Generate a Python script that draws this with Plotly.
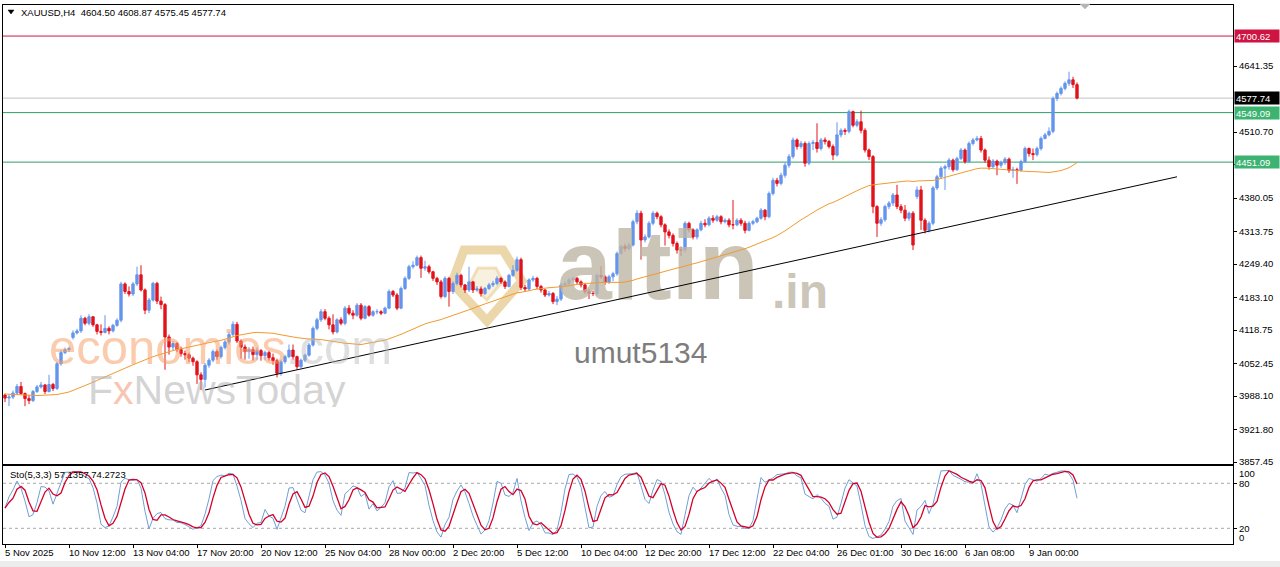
import plotly.graph_objects as go
import pandas as pd

# ---------------- data ----------------
first_open = 3990.0
close = [
    3984, 3986, 3994, 4007, 3993, 3983, 3979, 3997, 4006, 4010,
    3997, 4011, 4003, 4052, 4074, 4080, 4082, 4113, 4117, 4142,
    4132, 4145, 4129, 4116, 4114, 4122, 4117, 4128, 4138, 4210,
    4195, 4190, 4210, 4228, 4198, 4158, 4178, 4211, 4176, 4169,
    4105, 4085, 4092, 4080, 4072, 4070, 4063, 4056, 4030, 4021,
    4049, 4059, 4076, 4066, 4084, 4095, 4110, 4130, 4097, 4085,
    4076, 4080, 4070, 4078, 4068, 4074, 4064, 4058, 4033, 4056,
    4066, 4079, 4066, 4046, 4059, 4069, 4089, 4122, 4139, 4155,
    4142, 4129, 4115, 4139, 4132, 4162, 4152, 4148, 4168, 4142,
    4165, 4148, 4155, 4155, 4152, 4162, 4195, 4188, 4162, 4201,
    4221, 4244, 4247, 4262, 4241, 4244, 4234, 4221, 4214, 4185,
    4221, 4195, 4211, 4227, 4208, 4198, 4214, 4198, 4200, 4191,
    4201, 4208, 4211, 4221, 4214, 4205, 4227, 4237, 4258, 4203,
    4200, 4218, 4221, 4205, 4198, 4188, 4191, 4175, 4180, 4208,
    4211, 4218, 4221, 4214, 4208, 4195, 4191, 4191, 4227, 4224,
    4214, 4224, 4230, 4270, 4284, 4280, 4287, 4333, 4350, 4297,
    4303, 4330, 4350, 4343, 4327, 4313, 4306, 4290, 4277, 4277,
    4330, 4317, 4303, 4317, 4330, 4327, 4340, 4336, 4343, 4333,
    4336, 4327, 4327, 4336, 4330, 4316, 4330, 4333, 4340, 4356,
    4343, 4389, 4415, 4409, 4425, 4445, 4462, 4495, 4482, 4488,
    4449, 4488, 4490, 4478, 4495, 4492, 4482, 4465, 4505, 4514,
    4512, 4551, 4524, 4531, 4514, 4475, 4462, 4363, 4330, 4337,
    4363, 4370, 4386, 4363, 4356, 4340, 4350, 4287, 4396, 4336,
    4316, 4330, 4400, 4422, 4439, 4442, 4455, 4436, 4458, 4475,
    4452, 4488, 4495, 4498, 4475, 4455, 4442, 4453, 4445, 4450,
    4457, 4435, 4436, 4435, 4452, 4478, 4468, 4466, 4478, 4498,
    4505, 4512, 4577, 4587, 4597, 4607, 4614, 4604.50, 4577.74,
]
high = [
    3993, 3992, 3999, 4012, 4016, 3995, 3990, 4000, 4010, 4016,
    4012, 4030, 4014, 4056, 4079, 4084, 4086, 4118, 4121, 4148,
    4145, 4150, 4146, 4131, 4130, 4148, 4126, 4131, 4142, 4214,
    4213, 4205, 4214, 4244, 4247, 4201, 4182, 4214, 4214, 4185,
    4172, 4110, 4097, 4095, 4086, 4078, 4074, 4066, 4059, 4035,
    4053, 4063, 4080, 4080, 4088, 4099, 4115, 4136, 4135, 4100,
    4090, 4085, 4086, 4084, 4081, 4078, 4078, 4072, 4062, 4060,
    4070, 4090, 4090, 4068, 4062, 4072, 4093, 4126, 4143, 4160,
    4160, 4146, 4150, 4142, 4144, 4166, 4168, 4158, 4172, 4172,
    4168, 4168, 4158, 4160, 4158, 4165, 4199, 4198, 4192, 4205,
    4225, 4248, 4255, 4266, 4266, 4256, 4248, 4236, 4224, 4218,
    4225, 4224, 4215, 4232, 4230, 4210, 4244, 4216, 4206, 4205,
    4204, 4212, 4216, 4226, 4224, 4217, 4230, 4247, 4264, 4262,
    4208, 4221, 4226, 4224, 4208, 4200, 4196, 4194, 4186, 4212,
    4215, 4222, 4225, 4224, 4217, 4211, 4200, 4196, 4231, 4245,
    4227, 4228, 4234, 4274, 4288, 4290, 4292, 4337, 4356, 4355,
    4308, 4334, 4354, 4353, 4346, 4330, 4318, 4310, 4294, 4284,
    4334, 4333, 4320, 4320, 4335, 4338, 4344, 4346, 4347, 4346,
    4340, 4340, 4376, 4340, 4340, 4335, 4334, 4337, 4343, 4360,
    4358, 4393, 4420, 4420, 4430, 4450, 4467, 4500, 4498, 4493,
    4492, 4492, 4495, 4528, 4499, 4500, 4495, 4486, 4530, 4518,
    4518, 4555, 4553, 4536, 4553, 4518, 4478, 4465, 4366, 4342,
    4367, 4374, 4390, 4406, 4368, 4366, 4353, 4354, 4403, 4404,
    4340, 4334, 4404, 4426, 4443, 4446, 4459, 4458, 4462, 4479,
    4478, 4492, 4499, 4503, 4503, 4478, 4462, 4457, 4456, 4454,
    4461, 4460, 4442, 4440, 4456, 4482, 4480, 4478, 4482, 4502,
    4509, 4520, 4581, 4591, 4601, 4611, 4630, 4620, 4608.87,
]
low = [
    3976, 3968, 3982, 3990, 3990, 3968, 3972, 3976, 3994, 4003,
    3992, 3995, 3998, 4000, 4048, 4071, 4075, 4100, 4110, 4113,
    4128, 4128, 4125, 4110, 4108, 4112, 4110, 4114, 4125, 4134,
    4190, 4185, 4186, 4206, 4195, 4150, 4152, 4175, 4170, 4160,
    4040, 4070, 4078, 4075, 4066, 4060, 4055, 4048, 4012, 4000,
    4005, 4044, 4055, 4060, 4062, 4080, 4090, 4106, 4093, 4062,
    4060, 4062, 4058, 4060, 4058, 4060, 4058, 4050, 4025, 4028,
    4052, 4063, 4060, 4040, 4043, 4055, 4066, 4086, 4118, 4135,
    4138, 4120, 4110, 4112, 4128, 4128, 4148, 4140, 4145, 4138,
    4140, 4145, 4145, 4150, 4148, 4150, 4160, 4184, 4158, 4160,
    4198, 4218, 4240, 4245, 4222, 4236, 4230, 4216, 4208, 4181,
    4182, 4165, 4190, 4207, 4203, 4192, 4194, 4192, 4195, 4185,
    4188, 4198, 4204, 4207, 4210, 4200, 4203, 4224, 4234, 4198,
    4194, 4196, 4214, 4200, 4193, 4184, 4185, 4170, 4168, 4176,
    4204, 4206, 4214, 4210, 4203, 4190, 4180, 4186, 4186, 4220,
    4208, 4210, 4215, 4226, 4268, 4274, 4276, 4284, 4328, 4258,
    4292, 4300, 4326, 4338, 4322, 4286, 4300, 4284, 4270, 4265,
    4272, 4312, 4298, 4298, 4314, 4322, 4324, 4331, 4333, 4328,
    4330, 4322, 4318, 4324, 4325, 4310, 4314, 4326, 4330, 4337,
    4336, 4340, 4385, 4403, 4405, 4420, 4440, 4458, 4476, 4478,
    4442, 4445, 4475, 4470, 4474, 4486, 4478, 4455, 4462, 4500,
    4505, 4508, 4520, 4520, 4508, 4470, 4455, 4350, 4303, 4325,
    4333, 4358, 4364, 4358, 4350, 4334, 4335, 4277, 4378, 4317,
    4310, 4312, 4326, 4396, 4418, 4396, 4436, 4432, 4434, 4455,
    4448, 4450, 4484, 4492, 4470, 4450, 4436, 4438, 4425, 4440,
    4446, 4430, 4420, 4408, 4432, 4450, 4462, 4455, 4462, 4474,
    4496, 4502, 4508, 4572, 4583, 4593, 4602, 4598, 4575.45,
]
# opens that differ from the previous close (gaps)
open_gaps = {17: 4104, 228: 4383, 268: 4604.50}

# moving average before the first full 50-bar window
ma_early_k = [0, 8, 13, 16, 21, 26, 32, 37, 42, 46]
ma_early_v = [3992, 3989, 3991, 3996, 4012, 4030, 4050, 4066, 4078, 4085]
ma_period = 50

date_labels = ["5 Nov 2025", "10 Nov 12:00", "13 Nov 04:00", "17 Nov 20:00",
               "20 Nov 12:00", "25 Nov 04:00", "28 Nov 00:00", "2 Dec 20:00",
               "5 Dec 12:00", "10 Dec 04:00", "12 Dec 20:00", "17 Dec 12:00",
               "22 Dec 04:00", "26 Dec 01:00", "30 Dec 16:00", "6 Jan 08:00",
               "9 Jan 00:00"]
label_step = 16

price_ticks = [4641.35, 4510.70, 4445.40, 4380.05, 4313.75, 4249.40, 4183.10,
               4118.75, 4052.45, 3988.10, 3921.80, 3857.45]
levels = [(4700.62, "#cf1443", "#cf1443"), (4577.74, "#c3c3c3", "#000000"),
          (4549.09, "#2f9d67", "#3cb371"), (4451.09, "#2f9d67", "#3cb371")]
trend_start = (50, 4000.0)
trend_end = (293, 4422.0)
header_text = "XAUUSD,H4  4604.50 4608.87 4575.45 4577.74"
sto_text = "Sto(5,3,3) 57.1357 74.2723"

# ---------------- preparation ----------------
n = min(len(close), len(high), len(low))
close, high, low = close[:n], high[:n], low[:n]
idx = list(range(n))
opn = [first_open] + close[:-1]
for k, v in open_gaps.items():
    if k < n:
        opn[k] = v
high = [max(h, o, c) for h, o, c in zip(high, opn, close)]
low = [min(l, o, c) for l, o, c in zip(low, opn, close)]

sc = pd.Series(close, dtype=float)
sma = sc.rolling(ma_period).mean()
ma_x = ma_early_k + list(range(ma_period - 1, n))
ma_y = ma_early_v + list(sma.iloc[ma_period - 1:])

sh = pd.Series(high, dtype=float)
sl = pd.Series(low, dtype=float)
hh = sh.rolling(5, min_periods=1).max()
ll = sl.rolling(5, min_periods=1).min()
num = (sc - ll).rolling(3, min_periods=1).sum()
den = (hh - ll).rolling(3, min_periods=1).sum()
sto_main = (100 * num / den).fillna(50)
sto_sig = sto_main.rolling(3, min_periods=1).mean()

# ---------------- geometry ----------------
W, H = 1280, 567
LP, RP, TP, BP = 3, 1233, 5, 544
MAIN_BOT, STO_TOP = 464, 466


def price_at(py):
    return 4641.35 - (py - 66) * 1.9795


def bar_at(px):
    return (px - 5) / 4.0


def paper_x(px):
    return (px - LP) / (RP - LP)


def paper_y(py):
    return (BP - py) / (BP - TP)


FONT = "Liberation Sans"
BLUE = "#6495ED"
RED = "#e3121b"

fig = go.Figure()

# watermark under the candles: altin.in
fig.add_trace(go.Scatter(
    x=[bar_at(658), bar_at(800)], y=[price_at(274), price_at(296)],
    mode="text", text=["<b>altin</b>", "<b>.in</b>"],
    textfont=dict(family=FONT, size=[98, 48], color="rgba(190,183,165,0.8)"),
    textposition="middle center", hoverinfo="skip", showlegend=False,
    xaxis="x", yaxis="y"))

fig.add_trace(go.Candlestick(
    x=idx, open=opn, high=high, low=low, close=close,
    increasing=dict(line=dict(color=BLUE, width=1), fillcolor=BLUE),
    decreasing=dict(line=dict(color=RED, width=1), fillcolor=RED),
    whiskerwidth=0, hoverinfo="skip", showlegend=False,
    xaxis="x", yaxis="y"))

fig.add_trace(go.Scatter(
    x=ma_x, y=ma_y, mode="lines", line=dict(color="#f29a2e", width=1),
    hoverinfo="skip", showlegend=False, xaxis="x", yaxis="y"))

fig.add_trace(go.Scatter(
    x=idx, y=list(sto_main), mode="lines", line=dict(color="#6f9fd6", width=1),
    hoverinfo="skip", showlegend=False, xaxis="x2", yaxis="y2"))
fig.add_trace(go.Scatter(
    x=idx, y=list(sto_sig), mode="lines", line=dict(color="#d3002a", width=1.3),
    hoverinfo="skip", showlegend=False, xaxis="x2", yaxis="y2"))

shapes = []
for price, lc, bg in levels:
    shapes.append(dict(type="line", xref="paper", yref="y", x0=0, x1=1,
                       y0=price, y1=price, line=dict(color=lc, width=1), layer="below"))
shapes.append(dict(type="line", xref="x", yref="y", x0=trend_start[0], y0=trend_start[1],
                   x1=trend_end[0], y1=trend_end[1], line=dict(color="black", width=1)))
for lv in (80, 20):
    shapes.append(dict(type="line", xref="paper", yref="y2", x0=0, x1=1, y0=lv, y1=lv,
                       line=dict(color="#a8a8a8", width=1, dash="3px,3px"), layer="below"))


def pth(pts):
    return "M " + " L ".join(f"{paper_x(a):.5f},{paper_y(b):.5f}" for a, b in pts) + " Z"


# gem logo of the altin.in watermark
gem = [(464, 250), (503, 250), (522, 281), (487, 321), (452, 283)]
shapes.append(dict(type="path", xref="paper", yref="paper", path=pth(gem),
                   line=dict(color="rgba(226,194,125,0.65)", width=9),
                   fillcolor="rgba(0,0,0,0)", layer="below"))
gem_in = [(478, 268), (496, 268), (503, 281), (487, 300), (470, 283)]
shapes.append(dict(type="path", xref="paper", yref="paper", path=pth(gem_in),
                   line=dict(color="rgba(226,194,125,0.45)", width=3),
                   fillcolor="rgba(236,214,165,0.35)", layer="below"))
# small triangles (header marker & shift marker)
shapes.append(dict(type="path", xref="paper", yref="paper",
                   path=pth([(8, 10), (14, 10), (11, 14)]),
                   fillcolor="black", line=dict(color="black", width=0.5)))
shapes.append(dict(type="path", xref="paper", yref="paper",
                   path=pth([(1080, 4), (1090, 4), (1085, 9)]),
                   fillcolor="#b5b5b5", line=dict(color="#b5b5b5", width=0.5)))
# bottom grey strip of the window
shapes.append(dict(type="rect", xref="paper", yref="paper",
                   x0=paper_x(0), x1=paper_x(1280), y0=paper_y(567), y1=paper_y(561),
                   fillcolor="#ececec", line=dict(width=0)))

ann = []
ann.append(dict(xref="paper", yref="paper", x=paper_x(19), y=paper_y(12.5),
                xanchor="left", yanchor="middle", text=header_text, showarrow=False,
                font=dict(family=FONT, size=9.5, color="black")))
ann.append(dict(xref="paper", yref="paper", x=paper_x(8), y=paper_y(474.5),
                xanchor="left", yanchor="middle", text=sto_text, showarrow=False,
                font=dict(family=FONT, size=9.5, color="black")))
for price, lc, bg in levels:
    ann.append(dict(xref="paper", yref="y", x=1, y=price, xanchor="left", yanchor="middle",
                    xshift=1, text=f"{price:.2f}", showarrow=False, bgcolor=bg,
                    font=dict(family=FONT, size=9.5, color="white"),
                    width=42, height=10, align="left", borderpad=1))
ann.append(dict(xref="paper", yref="paper", x=1, y=paper_y(473.5), xanchor="left",
                yanchor="middle", xshift=4, text="100", showarrow=False,
                font=dict(family=FONT, size=9.5, color="black")))
ann.append(dict(xref="paper", yref="paper", x=1, y=paper_y(537.5), xanchor="left",
                yanchor="middle", xshift=4, text="0", showarrow=False,
                font=dict(family=FONT, size=9.5, color="black")))
for i, lab in enumerate(date_labels):
    ann.append(dict(xref="x", yref="paper", x=i * label_step, y=0, xanchor="left",
                    yanchor="top", xshift=-2, yshift=-1, text=lab, showarrow=False,
                    font=dict(family=FONT, size=9.5, color="black")))
# overlay watermarks
ann.append(dict(xref="paper", yref="paper", x=paper_x(220), y=paper_y(347),
                xanchor="center", yanchor="middle", showarrow=False, height=38,
                text="<span style='color:rgba(247,160,105,0.55)'>economies</span>"
                     "<span style='color:rgba(185,185,185,0.45)'>.com</span>",
                font=dict(family=FONT, size=49)))
ann.append(dict(xref="paper", yref="paper", x=paper_x(217), y=paper_y(390),
                xanchor="center", yanchor="middle", showarrow=False, height=34,
                text="<span style='color:rgba(175,175,175,0.55)'>F</span>"
                     "<span style='color:rgba(240,140,100,0.5)'>x</span>"
                     "<span style='color:rgba(175,175,175,0.55)'>NewsToday</span>",
                font=dict(family=FONT, size=41)))
ann.append(dict(xref="paper", yref="paper", x=paper_x(640), y=paper_y(352),
                xanchor="center", yanchor="middle", showarrow=False,
                text="umut5134", font=dict(family=FONT, size=30, color="#7d7d7d")))

main_dom = [paper_y(MAIN_BOT), 1.0]
sto_dom = [0.0, paper_y(STO_TOP)]
xr = [bar_at(LP), bar_at(RP)]
axis_line = dict(showline=True, mirror=True, linecolor="black", linewidth=1,
                 showgrid=False, zeroline=False)

fig.update_layout(
    width=W, height=H,
    margin=dict(l=LP, r=W - RP, t=TP, b=H - BP, autoexpand=False),
    paper_bgcolor="white", plot_bgcolor="white",
    showlegend=False, hovermode=False,
    boxgap=0.42, boxgroupgap=0,
    font=dict(family=FONT, size=9.5, color="black"),
    xaxis=dict(domain=[0, 1], anchor="y", range=xr, showticklabels=False, ticks="",
               rangeslider=dict(visible=False), fixedrange=True, **axis_line),
    xaxis2=dict(domain=[0, 1], anchor="y2", range=xr, matches="x",
                tickmode="array", tickvals=[i * label_step for i in range(len(date_labels))],
                ticks="outside", ticklen=3, tickcolor="black", showticklabels=False,
                fixedrange=True, **axis_line),
    yaxis=dict(domain=main_dom, anchor="x", side="right",
               range=[price_at(MAIN_BOT), price_at(TP)],
               tickmode="array", tickvals=price_ticks,
               ticktext=[f"{v:.2f}" for v in price_ticks],
               ticks="outside", ticklen=3, tickcolor="black",
               tickfont=dict(family=FONT, size=9.5, color="black"),
               fixedrange=True, **axis_line),
    yaxis2=dict(domain=sto_dom, anchor="x2", side="right",
                range=[-0.93, 103.07], tickmode="array", tickvals=[80, 20],
                ticktext=["80", "20"], ticks="outside", ticklen=3, tickcolor="black",
                tickfont=dict(family=FONT, size=9.5, color="black"),
                fixedrange=True, **axis_line),
    shapes=shapes, annotations=ann,
)

fig.write_html("out.html", config={"displayModeBar": False, "staticPlot": True},
               post_script="document.body.style.margin='0px';document.body.style.overflow='hidden';")
